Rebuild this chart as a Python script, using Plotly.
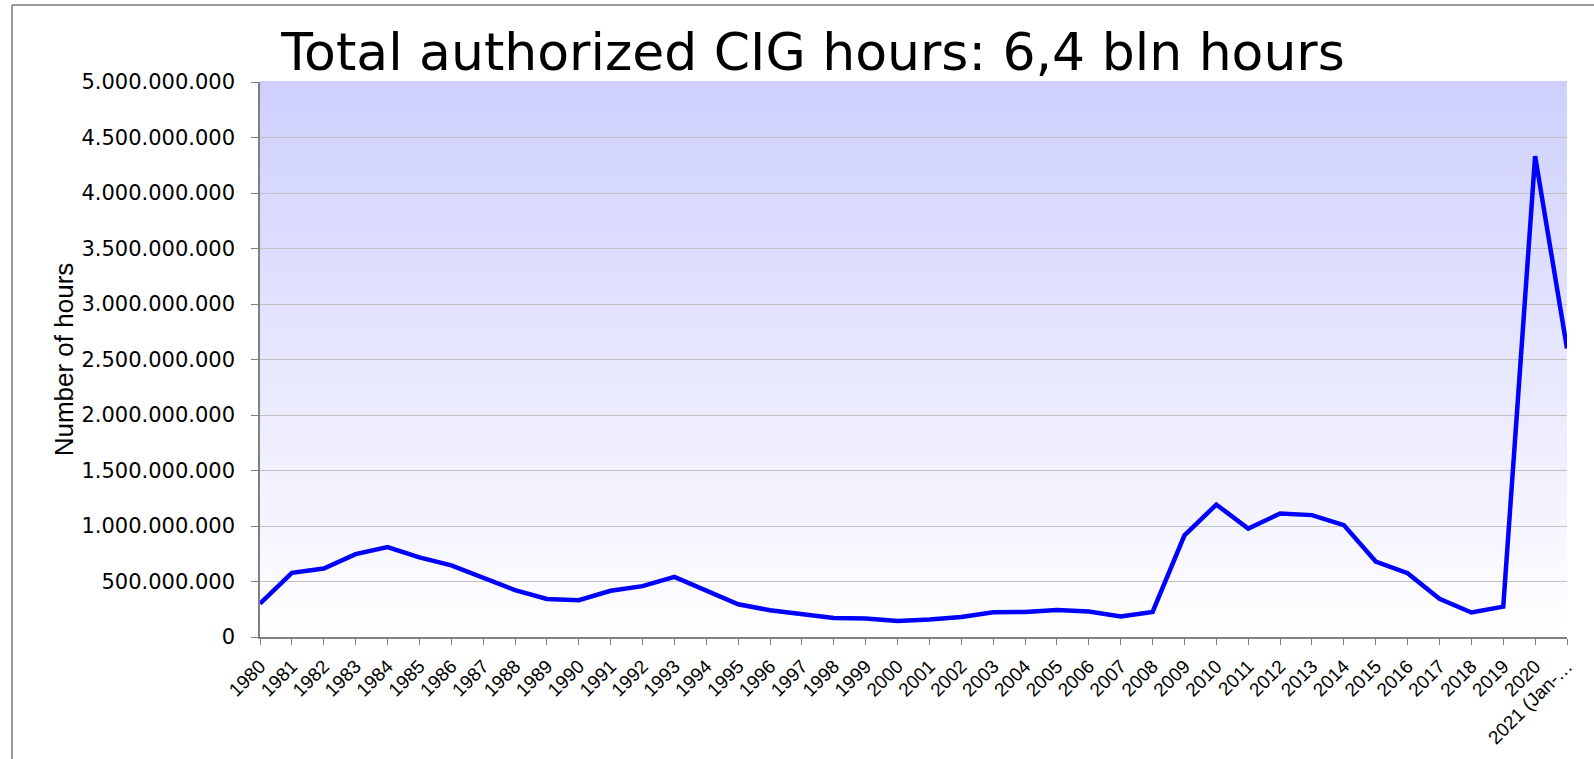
import plotly.graph_objects as go

# ---- data ----
years = [str(y) for y in range(1980, 2021)] + ["2021 (Jan-…"]
hours = [
    301e6, 578e6, 617e6, 747e6, 810e6, 717e6, 645e6, 536e6, 422e6, 343e6,
    331e6, 416e6, 458e6, 542e6, 416e6, 295e6, 241e6, 211e6, 172e6, 166e6,
    145e6, 157e6, 181e6, 223e6, 226e6, 244e6, 229e6, 184e6, 226e6, 916e6,
    1193e6, 977e6, 1112e6, 1098e6, 1008e6, 680e6, 575e6, 344e6, 221e6, 274e6,
    4332e6, 2600e6,
]
y_ticks = [i * 500_000_000 for i in range(11)]

title_text = "Total authorized CIG hours: 6,4 bln hours"
y_title = "Number of hours"

# ---- layout constants ----
W, H = 1594, 759
ML, MR, MT, MB = 260, 27, 82, 122
PW, PH = W - ML - MR, H - MT - MB

fig = go.Figure()
fig.add_trace(go.Scatter(
    x=years, y=hours, mode="lines",
    line=dict(color="#0000ff", width=4.5),
    hoverinfo="x+y",
))

# gradient background of plot area (top light blue -> bottom white)
shapes = []
n = 80
top = (206, 207, 253)
bot = (255, 255, 255)
for i in range(n):
    t = (i + 0.5) / n  # 0 bottom -> 1 top
    c = tuple(round(bot[k] + (top[k] - bot[k]) * t) for k in range(3))
    shapes.append(dict(
        type="rect", xref="x domain", yref="y domain",
        x0=0, x1=1, y0=i / n, y1=(i + 1) / n + 0.002,
        fillcolor="rgb(%d,%d,%d)" % c, line=dict(width=0), layer="below",
    ))

# outer frame lines (left and top) in paper coordinates
fx = (12 - ML) / PW
fy_top = (H - MB - 5) / PH
fy_bot = (H - MB - 770) / PH
shapes.append(dict(type="line", xref="paper", yref="paper",
                   x0=fx, x1=fx, y0=fy_bot, y1=fy_top,
                   line=dict(color="#7a7a7a", width=1.5)))
shapes.append(dict(type="line", xref="paper", yref="paper",
                   x0=fx, x1=(1600 - ML) / PW, y0=fy_top, y1=fy_top,
                   line=dict(color="#7a7a7a", width=1.5)))

fig.update_layout(
    width=W, height=H,
    margin=dict(l=ML, r=MR, t=MT, b=MB, autoexpand=False),
    paper_bgcolor="white",
    plot_bgcolor="white",
    separators=",.",
    showlegend=False,
    shapes=shapes,
    title=dict(
        text=title_text,
        font=dict(family="DejaVu Sans", size=52, color="black"),
        x=813 / W, xref="container", xanchor="center",
        y=1 - 52 / H, yref="container", yanchor="middle",
    ),
)

fig.update_xaxes(
    type="category",
    range=[0, len(years) - 1],
    automargin=False,
    showgrid=False,
    showline=True, linecolor="#808080", linewidth=1.5,
    ticks="outside", ticklen=6, tickcolor="#808080", tickwidth=1,
    tickangle=-45,
    ticklabelstandoff=3,
    tickfont=dict(family="Liberation Sans, Arial", size=19, color="black"),
    zeroline=False,
)
fig.update_yaxes(
    range=[0, 5_000_000_000],
    tickvals=y_ticks,
    tickformat=",d",
    automargin=False,
    showgrid=True, gridcolor="#c0c0c0", gridwidth=1,
    showline=True, linecolor="#808080", linewidth=1.5,
    ticks="outside", ticklen=7, tickcolor="#808080", tickwidth=1,
    ticklabelstandoff=12,
    tickfont=dict(family="DejaVu Sans", size=21, color="black"),
    title=dict(text=y_title, standoff=0,
               font=dict(family="Liberation Sans, Arial", size=26, color="black")),
    zeroline=False,
)

fig.write_html(
    "out.html",
    config={"displayModeBar": False},
    post_script="document.body.style.margin='0';document.body.style.padding='0';",
)
